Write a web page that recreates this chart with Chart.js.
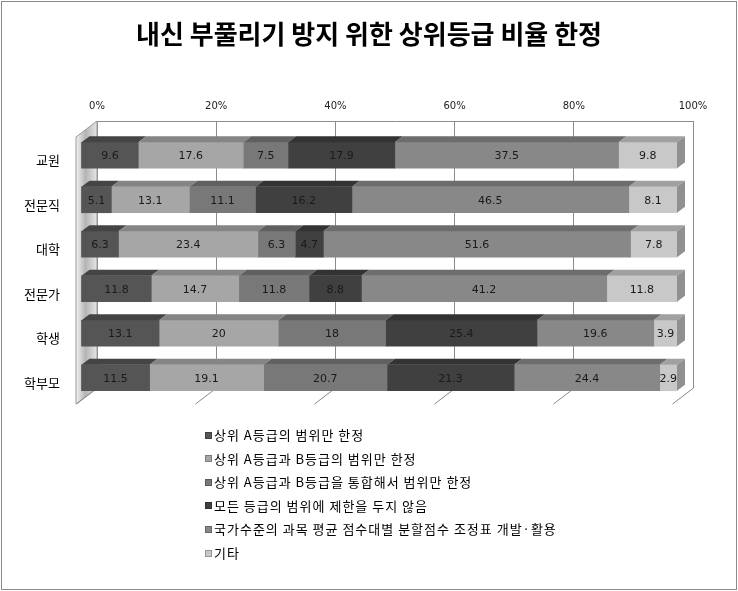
<!DOCTYPE html>
<html>
<head>
<meta charset="utf-8">
<script src="https://cdn.jsdelivr.net/npm/chart.js@4/dist/chart.umd.min.js"></script>
<style>
  html, body { margin: 0; padding: 0; background: #fff; }
  #wrap { width: 738px; height: 591px; position: relative; }
</style>
</head>
<body>
<div id="wrap"><canvas id="c" width="738" height="591"></canvas></div>
<script>
const chartTitle = '내신 부풀리기 방지 위한 상위등급 비율 한정';
const categories = ['교원', '전문직', '대학', '전문가', '학생', '학부모'];
const seriesNames = [
  '상위 A등급의 범위만 한정',
  '상위 A등급과 B등급의 범위만 한정',
  '상위 A등급과 B등급을 통합해서 범위만 한정',
  '모든 등급의 범위에 제한을 두지 않음',
  '국가수준의 과목 평균 점수대별 분할점수 조정표 개발·활용',
  '기타'
];
const seriesA = [9.6, 5.1, 6.3, 11.8, 13.1, 11.5];
const seriesB = [17.6, 13.1, 23.4, 14.7, 20, 19.1];
const seriesC = [7.5, 11.1, 6.3, 11.8, 18, 20.7];
const seriesD = [17.9, 16.2, 4.7, 8.8, 25.4, 21.3];
const seriesE = [37.5, 46.5, 51.6, 41.2, 19.6, 24.4];
const seriesF = [9.8, 8.1, 7.8, 11.8, 3.9, 2.9];
const xTickValues = [0, 20, 40, 60, 80, 100];

const allSeries = [seriesA, seriesB, seriesC, seriesD, seriesE, seriesF];
const colors = ['#555555', '#a6a6a6', '#787878', '#404040', '#888888', '#c8c8c8'];

// depth geometry
const BAR_DX = -16, BAR_DY = 12;   // bar front plane relative to back wall
const FLOOR_DX = -21, FLOOR_DY = 16; // floor front relative to back wall
const TOP_DX = 8, TOP_DY = -6;      // bar depth

function shade(hex, f) {
  const n = parseInt(hex.slice(1), 16);
  const r = Math.round(((n >> 16) & 255) * f);
  const g = Math.round(((n >> 8) & 255) * f);
  const b = Math.round((n & 255) * f);
  return `rgb(${r},${g},${b})`;
}

const totals = categories.map((_, i) => allSeries.reduce((s, arr) => s + arr[i], 0));

const datasets = allSeries.map((arr, k) => ({
  label: seriesNames[k],
  data: arr.map((v, i) => v / totals[i] * 100),
  raw: arr,
  backgroundColor: colors[k],
  borderWidth: 0,
  barThickness: 26,
  clip: false
}));

const threeD = {
  id: 'threeD',
  beforeDraw(chart) {
    const ctx = chart.ctx;
    ctx.save();
    ctx.fillStyle = '#fff';
    ctx.fillRect(0, 0, chart.width, chart.height);
    ctx.restore();
  },
  beforeDatasetsDraw(chart) {
    const ctx = chart.ctx;
    const a = chart.chartArea;
    const xs = chart.scales.x;
    ctx.save();
    const g = ctx.createLinearGradient(a.left + FLOOR_DX, 0, a.left, 0);
    g.addColorStop(0, '#f2f2f2');
    g.addColorStop(0.45, '#b4b4b4');
    g.addColorStop(1, '#e6e6e6');
    ctx.beginPath();
    ctx.moveTo(a.left, a.top);
    ctx.lineTo(a.left + FLOOR_DX, a.top + FLOOR_DY);
    ctx.lineTo(a.left + FLOOR_DX, a.bottom + FLOOR_DY);
    ctx.lineTo(a.left, a.bottom);
    ctx.closePath();
    ctx.fillStyle = g;
    ctx.fill();
    ctx.strokeStyle = '#9a9a9a';
    ctx.lineWidth = 1;
    ctx.stroke();
    ctx.beginPath();
    xTickValues.forEach(v => {
      const px = Math.round(xs.getPixelForValue(v)) + 0.5;
      ctx.moveTo(px, a.bottom);
      ctx.lineTo(px + FLOOR_DX, a.bottom + FLOOR_DY);
    });
    ctx.strokeStyle = '#8c8c8c';
    ctx.stroke();
    ctx.restore();
    ctx.save();
    ctx.translate(BAR_DX, BAR_DY);
  },
  afterDatasetsDraw(chart) {
    const ctx = chart.ctx;
    const n = chart.data.datasets.length;
    for (let k = 0; k < n; k++) {
      const meta = chart.getDatasetMeta(k);
      const col = chart.data.datasets[k].backgroundColor;
      meta.data.forEach((el, i) => {
        const p = el.getProps(['x', 'y', 'base', 'height'], true);
        const x0 = Math.min(p.x, p.base), x1 = Math.max(p.x, p.base);
        const top = p.y - p.height / 2, bot = p.y + p.height / 2;
        ctx.beginPath();
        ctx.moveTo(x0, top);
        ctx.lineTo(x1, top);
        ctx.lineTo(x1 + TOP_DX, top + TOP_DY);
        ctx.lineTo(x0 + TOP_DX, top + TOP_DY);
        ctx.closePath();
        ctx.fillStyle = shade(col, 0.8);
        ctx.fill();
        if (k === n - 1) {
          ctx.beginPath();
          ctx.moveTo(x1, top);
          ctx.lineTo(x1 + TOP_DX, top + TOP_DY);
          ctx.lineTo(x1 + TOP_DX, bot + TOP_DY);
          ctx.lineTo(x1, bot);
          ctx.closePath();
          ctx.fillStyle = shade(col, 0.72);
          ctx.fill();
        }
      });
    }
    ctx.font = '11px "DejaVu Sans"';
    ctx.fillStyle = '#1a1a1a';
    ctx.textAlign = 'center';
    ctx.textBaseline = 'middle';
    for (let k = 0; k < n; k++) {
      const meta = chart.getDatasetMeta(k);
      const raw = chart.data.datasets[k].raw;
      meta.data.forEach((el, i) => {
        const p = el.getProps(['x', 'y', 'base'], true);
        ctx.fillText(String(raw[i]), (p.x + p.base) / 2, p.y + 1);
      });
    }
    ctx.restore();
  },
  afterDraw(chart) {
    const ctx = chart.ctx;
    ctx.save();
    // title
    ctx.font = 'bold 26px "Noto Sans CJK KR"';
    ctx.fillStyle = '#000';
    ctx.textAlign = 'center';
    ctx.textBaseline = 'middle';
    ctx.fillText(chartTitle, 369, 34);
    // legend
    ctx.font = '13px "Noto Sans CJK KR"';
    ctx.letterSpacing = '1px';
    ctx.textAlign = 'left';
    ctx.textBaseline = 'middle';
    chart.data.datasets.forEach((ds, k) => {
      const y = 435 + k * 23.6;
      ctx.fillStyle = ds.backgroundColor;
      ctx.fillRect(205, Math.round(y - 3.5), 7, 7);
      ctx.strokeStyle = shade(ds.backgroundColor, 0.75);
      ctx.lineWidth = 1;
      ctx.strokeRect(205.5, Math.round(y - 3.5) + 0.5, 6, 6);
      ctx.fillStyle = '#000';
      ctx.fillText(ds.label, 214, y);
    });
    ctx.letterSpacing = '0px';
    ctx.strokeStyle = '#8a8a8a';
    ctx.lineWidth = 1;
    ctx.strokeRect(1.5, 1.5, 735, 588);
    ctx.restore();
  }
};

new Chart(document.getElementById('c'), {
  type: 'bar',
  data: { labels: categories, datasets },
  options: {
    indexAxis: 'y',
    responsive: false,
    animation: false,
    layout: { padding: { top: 91, left: 10, right: 45, bottom: 203 } },
    plugins: {
      legend: { display: false },
      tooltip: { enabled: false },
      title: { display: false }
    },
    scales: {
      x: {
        position: 'top',
        stacked: true,
        min: 0,
        max: 100,
        afterBuildTicks: s => { s.ticks = xTickValues.map(v => ({ value: v })); },
        ticks: {
          padding: 9,
          font: { family: '"DejaVu Sans"', size: 10 },
          color: '#222',
          callback: v => v + '%'
        },
        grid: { color: '#8c8c8c', drawTicks: false, lineWidth: 1 },
        border: { display: true, color: '#8c8c8c' }
      },
      y: {
        stacked: true,
        afterFit: s => { s.width = 87; },
        ticks: {
          padding: 37,
          labelOffset: 17,
          font: { family: '"Noto Sans CJK KR"', size: 13 },
          color: '#000'
        },
        grid: { display: false, drawTicks: false },
        border: { display: false }
      }
    }
  },
  plugins: [threeD]
});
</script>
</body>
</html>
